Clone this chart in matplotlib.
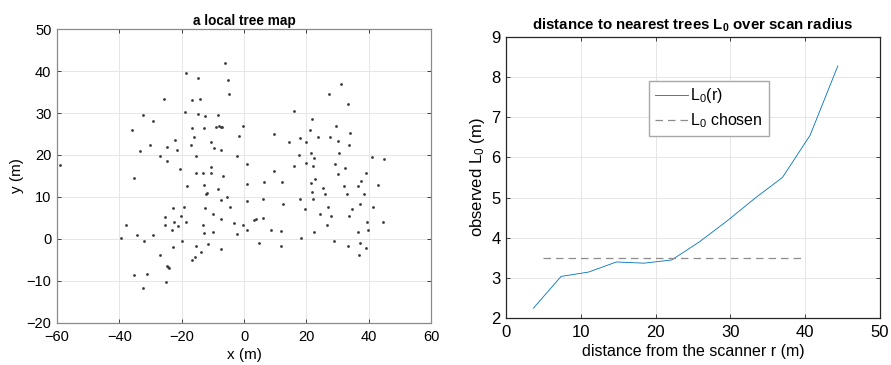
import numpy as np
import matplotlib
matplotlib.use('Agg')
import matplotlib.pyplot as plt

plt.rcParams['font.family'] = ['Liberation Sans', 'DejaVu Sans']
plt.rcParams['mathtext.fontset'] = 'custom'
plt.rcParams['mathtext.rm'] = 'Liberation Sans'
plt.rcParams['mathtext.bf'] = 'Liberation Sans:bold'
plt.rcParams['mathtext.default'] = 'regular'

# tree positions (m)
tree_x = [-6.1, -18.5, -14.9, -5.0, -25.7, -16.8, -14.1, -4.9, -18.9, -32.5,
          -14.8, -12.5, -8.3, -29.1, -36.0, -16.8, -12.7, -8.9, -8.1, -7.5,
          -7.1, -1.6, -16.0, -22.2, -10.5, -30.3, -24.6, -16.9, -9.6, -7.5,
          -21.4, -33.5, -27.1, -15.5, -2.3, -24.6, -58.9, -10.5, -20.6,
          -15.3, -13.2, -10.5, -6.6, -35.2, -18.4, -12.8, -8.4, -12.3, -11.9,
          -5.5, -7.4, -4.4, -12.5, -19.1, -22.8, -10.1, -20.3, -25.2, -7.3,
          -22.5, -18.5, -3.2, -25.5, -21.3, -13.0, -38.0, -23.2, -12.7, -10.0,
          -2.3, -29.2, -34.2, -39.5, -32.1, -19.9, -11.7, -22.9, -15.4, -7.4,
          -13.7, -27.1, -15.7, -16.7, -24.6, -24.4, -24.2, -35.2, -31.2, -25.0,
          -32.3,
          31.1, 27.4, 33.4, 16.0, 21.7, -0.3, 21.2, 29.5, 9.5, 34.0,
          18.1, 23.6, 27.6, 14.6, 19.9, 30.2, 33.7, 30.6, 17.6, 21.4,
          22.4, 41.2, 44.9, 0.9, 16.0, 19.9, 22.0, 29.2, 32.4,
          9.6, 30.3, 39.3, 0.9, 6.5, 12.2, 21.4, 22.8, 37.7, 25.2,
          32.1, 36.6, 42.9, 21.8, 26.1, 33.0, 38.6, 17.9, 22.0, 0.9,
          6.0, 12.5, 37.3, 41.3, 26.8, 19.5, 34.6, 24.5, 27.9, 33.6,
          6.0, 3.1, 3.7, -0.3, 26.6, 39.4, 44.6, 0.9, 8.8, 12.0,
          22.4, 36.6, 39.7, 18.3, 4.8, 28.8, 11.9, 33.4, 37.1, 39.3,
          37.0]
tree_y = [41.9, 39.6, 38.4, 38.0, 33.4, 33.1, 33.3, 34.5, 30.3, 29.5,
          29.7, 29.3, 29.5, 28.2, 25.9, 26.5, 26.4, 26.7, 26.9, 26.6,
          26.7, 24.6, 24.2, 23.6, 23.1, 22.3, 21.8, 22.3, 21.6, 21.3,
          21.2, 20.9, 19.7, 19.7, 19.7, 18.5, 17.6, 17.1, 16.6,
          15.8, 15.6, 15.8, 15.1, 14.5, 12.7, 12.8, 11.9, 10.7, 10.9,
          10.0, 9.2, 7.6, 7.4, 7.6, 7.4, 5.9, 5.5, 5.1, 4.8,
          4.0, 4.0, 3.7, 3.3, 3.0, 3.3, 3.3, 2.1, 1.4, 1.6,
          1.1, 1.0, 0.8, 0.1, -0.6, -0.5, -1.2, -2.0, -1.7, -2.5,
          -3.2, -3.8, -4.4, -5.1, -6.5, -6.8, -7.0, -8.6, -8.3, -10.3,
          -11.8,
          37.0, 34.6, 32.1, 30.5, 28.5, 26.8, 26.0, 26.8, 25.1, 25.3,
          24.0, 24.2, 24.4, 23.2, 23.1, 23.4, 22.3, 20.5, 20.0, 20.4,
          19.3, 19.4, 19.1, 17.8, 17.4, 18.1, 17.4, 17.8, 17.0,
          16.2, 15.5, 15.8, 13.1, 13.5, 13.6, 13.3, 14.3, 13.9, 12.2,
          12.6, 12.6, 12.8, 11.1, 10.7, 10.8, 10.7, 9.6, 9.6, 9.1,
          9.4, 8.2, 8.2, 7.7, 7.6, 7.0, 7.0, 6.0, 5.5, 5.4,
          4.9, 4.6, 4.7, 3.2, 3.4, 4.0, 4.0, 2.0, 2.1, 1.8,
          1.6, 1.6, 2.0, 0.2, -0.9, -0.5, -1.6, -1.7, -1.0, -2.2,
          -3.9]

# L0 over scan radius
radius = [3.65, 7.35, 11.05, 14.75, 18.45, 22.15, 25.85, 29.55, 33.25, 36.95, 40.65, 44.35]
L0 = [2.25, 3.04, 3.15, 3.40, 3.37, 3.45, 3.90, 4.42, 4.98, 5.50, 6.55, 8.27]
L0_chosen = 3.5
chosen_range = [5.0, 39.5]

fig = plt.figure(figsize=(8.91, 3.65), dpi=100)
ax1 = fig.add_axes([0.064, 0.116, 0.4197, 0.804])
ax2 = fig.add_axes([0.568, 0.128, 0.4197, 0.7715])

ax1.scatter(tree_x, tree_y, s=4, color='#3a3a3a', linewidths=0, zorder=3)
ax1.set_xlim(-60, 60)
ax1.set_ylim(-20, 50)
ax1.set_xticks(np.arange(-60, 61, 20))
ax1.set_yticks(np.arange(-20, 51, 10))
ax1.set_xlabel('x (m)', fontsize=11, labelpad=3)
ax1.set_ylabel('y (m)', fontsize=11, labelpad=2)
ax1.set_title('a local tree map', fontsize=9.8, fontweight='bold', pad=3)

ax2.plot(radius, L0, color='#0072BD', lw=0.6, label='L$_0$(r)')
ax2.plot(chosen_range, [L0_chosen, L0_chosen], color='#8c8c8c', lw=0.9,
         ls=(0, (6, 4)), label='L$_0$ chosen')
ax2.set_xlim(0, 50)
ax2.set_ylim(2, 9)
ax2.set_xlabel('distance from the scanner r (m)', fontsize=11.5, labelpad=3)
ax2.set_ylabel('observed L$_0$ (m)', fontsize=12, labelpad=3)
ax2.set_title(r'distance to nearest trees L$_{\mathbf{0}}$ over scan radius',
              fontsize=10.8, fontweight='bold', pad=5)
leg = ax2.legend(loc='upper left', bbox_to_anchor=(0.382, 0.844), borderaxespad=0,
                 fontsize=11.5, fancybox=False, edgecolor='#a8a8a8', framealpha=1,
                 handlelength=2.1, handletextpad=0.15, borderpad=0.35,
                 labelspacing=0.4)
leg.get_frame().set_linewidth(1.0)

for ax, fs, spc in [(ax1, 10.5, '#8a8a8a'), (ax2, 12, '#262626')]:
    ax.grid(True, color='#e6e6e6', lw=0.7)
    ax.set_axisbelow(True)
    ax.tick_params(direction='in', top=True, right=True, length=3,
                   width=0.6, labelsize=fs, color='#262626')
    ax.tick_params(axis='x', pad=5)
    ax.tick_params(axis='y', pad=4)
    for s in ax.spines.values():
        s.set_color(spc)
        s.set_linewidth(0.9)

fig.savefig('out.png', dpi=100)
